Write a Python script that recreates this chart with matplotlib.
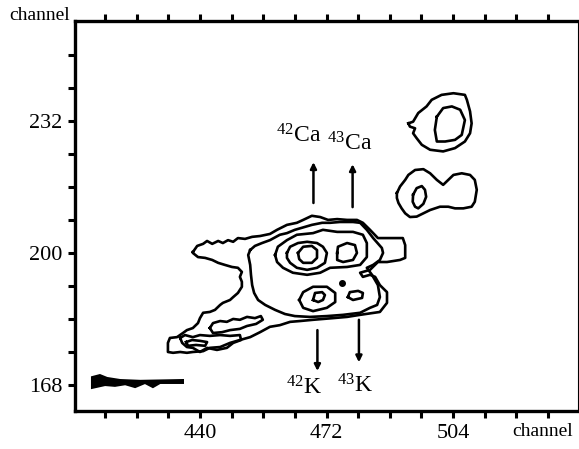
import numpy as np
import matplotlib
matplotlib.use('Agg')
import matplotlib.pyplot as plt

# Fonts: Times-like serif everywhere, also inside the superscripts
plt.rcParams['font.family'] = ['Liberation Serif', 'DejaVu Serif']
plt.rcParams['mathtext.fontset'] = 'custom'
plt.rcParams['mathtext.rm'] = 'Liberation Serif'
plt.rcParams['mathtext.it'] = 'Liberation Serif:italic'

# Axis ranges (channel numbers)
x_range = (408.4, 535.6)
y_range = (161.7, 256.2)
x_minor = list(range(416, 536, 8))
y_minor = list(range(168, 256, 8))
x_labels = [440, 472, 504]
y_labels = [168, 200, 232]

# Contour outlines, (x channel, y channel)
outer_level = [(438.2, 200.2), (439.3, 201.7), (440.8, 202.2), (441.8, 202.9), (443.1, 202.2),
               (444.6, 202.9), (445.8, 202.4), (447.1, 203.1), (448.4, 202.7), (449.6, 203.6),
               (451.4, 203.4), (453.2, 203.9), (455.2, 204.1), (457.7, 204.6), (459.5, 205.6),
               (462.0, 206.8), (464.5, 207.3), (466.1, 208.0), (468.3, 209.0), (470.4, 208.7),
               (472.4, 208.0), (474.7, 208.2), (477.2, 208.0), (479.7, 208.0), (481.2, 207.3),
               (483.0, 205.6), (485.0, 203.6), (487.3, 203.6), (491.3, 203.6), (491.9, 201.9),
               (491.9, 198.8), (490.6, 198.3), (487.3, 197.8), (485.0, 197.8), (483.0, 195.9),
               (480.5, 195.2), (481.2, 194.2), (483.0, 194.7), (484.3, 194.2), (485.5, 192.2),
               (487.3, 190.5), (487.3, 187.9), (485.5, 185.7), (480.5, 185.0), (477.2, 184.5),
               (473.6, 184.2), (468.6, 183.8), (465.3, 183.5), (462.8, 183.3), (460.2, 182.5),
               (457.7, 182.1), (455.2, 180.8), (452.7, 179.6), (450.1, 178.9), (447.6, 178.2),
               (445.1, 177.2), (442.5, 177.0), (440.8, 176.2), (438.2, 176.0), (436.7, 175.8),
               (435.0, 176.0), (433.2, 175.8), (431.9, 176.0), (431.9, 178.2), (432.4, 179.4),
               (434.2, 179.6), (435.7, 180.6), (436.7, 181.3), (438.2, 181.8), (439.5, 183.0),
               (440.0, 184.2), (440.8, 185.5), (442.5, 185.7), (443.8, 186.2), (445.1, 187.4),
               (445.8, 187.9), (447.6, 188.6), (448.4, 189.3), (449.6, 190.3), (450.6, 191.8),
               (450.6, 193.0), (450.1, 194.2), (450.6, 195.4), (449.6, 196.4), (448.1, 196.6),
               (446.3, 197.1), (444.6, 197.6), (443.1, 198.3), (441.3, 198.8), (439.5, 199.0),
               (438.2, 200.0)]

second_level = [(452.7, 200.7), (453.9, 201.7), (455.7, 202.4), (457.7, 203.1), (460.2, 204.4),
                (462.0, 204.8), (464.0, 205.6), (465.8, 206.1), (468.3, 206.8), (470.9, 207.3),
                (472.9, 207.3), (475.4, 207.5), (478.7, 207.5), (480.5, 207.3), (482.2, 205.6),
                (483.8, 203.6), (486.0, 201.2), (486.3, 200.0), (485.5, 198.3), (483.8, 197.1),
                (482.2, 196.4), (483.5, 194.7), (485.0, 192.2), (485.5, 189.3), (484.8, 187.4),
                (483.0, 186.7), (480.5, 185.5), (476.2, 185.0), (472.1, 184.7), (467.8, 184.5),
                (464.0, 184.7), (461.5, 185.2), (459.0, 186.2), (456.5, 187.4), (454.7, 188.6),
                (453.7, 190.3), (453.2, 192.2), (452.9, 194.7), (452.7, 197.1), (452.2, 199.5)]

ca_both = [(459.0, 199.5), (459.7, 201.5), (462.0, 203.1), (464.5, 204.4), (468.6, 204.8),
           (471.1, 205.6), (474.7, 205.1), (478.7, 205.1), (481.2, 204.4), (482.2, 202.4),
           (482.2, 199.0), (480.5, 197.1), (477.2, 196.6), (472.9, 196.4), (470.4, 195.2),
           (467.1, 194.7), (463.5, 195.2), (461.0, 196.4), (459.5, 197.8)]

ca42_ring = [(462.0, 200.0), (462.8, 201.5), (464.8, 202.4), (467.1, 202.7), (469.6, 202.4),
             (471.1, 201.5), (472.1, 200.0), (471.6, 197.6), (469.6, 196.4), (467.1, 195.9),
             (464.5, 196.4), (462.8, 197.6), (462.0, 198.8)]

ca42_core = [(464.8, 200.0), (466.1, 201.5), (468.3, 201.7), (469.6, 200.7), (469.6, 198.8),
             (468.3, 197.6), (466.1, 197.6), (465.1, 198.5)]

ca43_ring = [(474.7, 200.0), (474.9, 201.5), (477.2, 202.4), (479.2, 201.9), (479.7, 200.0),
             (478.7, 198.3), (476.2, 197.8), (474.7, 198.3)]

k42_ring = [(465.1, 188.6), (466.1, 190.5), (468.6, 191.8), (472.1, 191.8), (474.2, 190.3),
            (474.2, 188.1), (472.1, 186.7), (468.6, 185.9), (466.1, 186.7)]

k42_core = [(468.6, 188.6), (469.1, 190.3), (470.9, 190.5), (471.6, 189.8), (471.1, 188.6),
            (469.9, 188.1)]

k43_ring = [(477.4, 189.3), (477.9, 190.5), (480.0, 190.8), (481.2, 190.3), (481.0, 189.1),
            (478.7, 188.6)]

tail_upper = [(442.5, 181.8), (443.3, 183.0), (445.1, 183.5), (446.8, 183.3), (448.4, 184.0),
              (450.1, 183.8), (451.9, 184.5), (453.9, 184.2), (455.4, 184.7), (455.9, 183.8),
              (454.2, 182.8), (451.9, 182.3), (450.1, 181.6), (447.6, 181.3), (445.6, 180.8),
              (443.3, 180.6)]

tail_lower = [(435.0, 179.4), (436.2, 180.1), (438.2, 179.6), (440.0, 180.1), (442.5, 179.9),
              (445.1, 180.1), (447.6, 179.9), (450.1, 180.1), (450.4, 178.9), (448.4, 178.2),
              (446.8, 177.0), (444.3, 176.5), (441.8, 177.0), (440.0, 176.0), (438.2, 177.0),
              (436.7, 177.2), (435.5, 178.2)]

tail_core = [(436.5, 178.4), (438.0, 178.9), (440.0, 178.7), (441.8, 178.4), (441.3, 177.5),
             (439.0, 177.7), (437.0, 177.5)]

upper_blob = [(492.7, 231.4), (493.9, 231.8), (495.2, 233.9), (497.3, 235.5), (498.6, 237.1),
              (501.1, 238.3), (504.1, 238.7), (507.0, 238.3), (507.5, 237.1), (508.3, 234.3),
              (508.7, 231.4), (508.3, 229.0), (507.0, 227.0), (504.5, 225.4), (501.5, 224.6),
              (498.2, 225.0), (496.1, 226.2), (494.8, 227.8), (493.9, 229.0), (494.4, 230.2),
              (493.1, 230.6)]

upper_blob_core = [(499.9, 233.0), (501.5, 235.1), (503.7, 235.5), (505.8, 234.7), (507.0, 232.2),
                   (506.2, 228.6), (504.5, 227.4), (502.0, 227.0), (499.9, 227.0), (499.4, 229.8)]

lower_blob = [(489.8, 214.5), (490.6, 216.1), (491.9, 217.7), (492.7, 218.9), (494.4, 220.1),
              (496.5, 220.3), (498.2, 219.3), (499.9, 217.7), (501.5, 216.5), (502.8, 217.7),
              (504.1, 218.9), (506.2, 219.3), (508.3, 218.9), (509.5, 217.7), (510.0, 215.3),
              (509.5, 212.4), (508.7, 211.2), (506.6, 210.8), (504.5, 210.8), (502.8, 211.2),
              (500.7, 211.2), (498.2, 210.4), (496.5, 209.6), (494.8, 208.8), (493.1, 208.7),
              (491.9, 209.6), (491.0, 210.8), (490.2, 212.1), (489.8, 213.3)]

lower_blob_core = [(493.9, 214.1), (494.8, 215.7), (496.1, 216.2), (496.9, 215.3), (497.2, 213.6),
                   (496.5, 211.9), (495.2, 210.8), (494.4, 211.2), (493.8, 212.4)]

streak = [(412.7, 169.9), (414.7, 170.4), (416.5, 169.7), (419.8, 169.2), (424.9, 169.0),
          (435.7, 169.2), (435.7, 168.5), (429.9, 168.5), (428.1, 167.5), (426.1, 168.5),
          (423.6, 167.5), (421.1, 168.2), (418.5, 167.8), (416.0, 168.0), (412.7, 167.3)]

dot = (475.9, 192.7)

# Peak labels: text, label position, arrow tail, arrow head
peak_names = ['$^{42}$Ca', '$^{43}$Ca', '$^{42}$K', '$^{43}$K']
peak_text_pos = [(465.0, 228.3), (477.9, 226.4), (466.4, 167.2), (479.3, 167.9)]
arrow_tail = [(468.7, 212.1), (478.6, 211.1), (469.7, 181.3), (480.2, 183.8)]
arrow_head = [(468.7, 222.0), (478.6, 221.5), (469.7, 171.4), (480.2, 173.5)]

contours = [outer_level, second_level, ca_both, ca42_ring, ca42_core, ca43_ring,
            k42_ring, k42_core, k43_ring, tail_upper, tail_lower, tail_core,
            upper_blob, upper_blob_core, lower_blob, lower_blob_core]

fig = plt.figure(figsize=(5.79, 4.49), dpi=100)
ax = fig.add_axes([75 / 579, 1 - 411 / 449, 503 / 579, 390 / 449])

for c in contours:
    pts = np.array(c + [c[0]])
    ax.plot(pts[:, 0], pts[:, 1], color='black', lw=1.9, solid_joinstyle='round')

s = np.array(streak + [streak[0]])
ax.fill(s[:, 0], s[:, 1], color='black', lw=1.5, edgecolor='black')
ax.plot([dot[0]], [dot[1]], 'o', color='black', ms=4)

for name, tp, t0, t1 in zip(peak_names, peak_text_pos, arrow_tail, arrow_head):
    ax.annotate('', xy=t1, xytext=t0,
                arrowprops=dict(arrowstyle='-|>', color='black', lw=1.8,
                                mutation_scale=9, shrinkA=0, shrinkB=0))
    ax.text(tp[0], tp[1], name, ha='center', va='center', fontsize=17)

# Axes and ticks
ax.set_xlim(*x_range)
ax.set_ylim(*y_range)
ax.set_xticks(x_minor)
ax.set_xticklabels([str(v) if v in x_labels else '' for v in x_minor])
ax.set_yticks(y_minor)
ax.set_yticklabels([str(v) if v in y_labels else '' for v in y_minor])
ax.tick_params(axis='both', direction='out', length=5, width=2.2, labelsize=16, pad=4)
ax.tick_params(axis='x', top=True, labeltop=False)
for side in ['left', 'bottom', 'top']:
    ax.spines[side].set_linewidth(2.4)
ax.spines['right'].set_linewidth(0.8)

fig.text(40 / 579, 1 - 15 / 449, 'channel', ha='center', va='center', fontsize=14)
fig.text(543 / 579, 1 - 432 / 449, 'channel', ha='center', va='center', fontsize=14)

plt.savefig('out.png', dpi=100)
